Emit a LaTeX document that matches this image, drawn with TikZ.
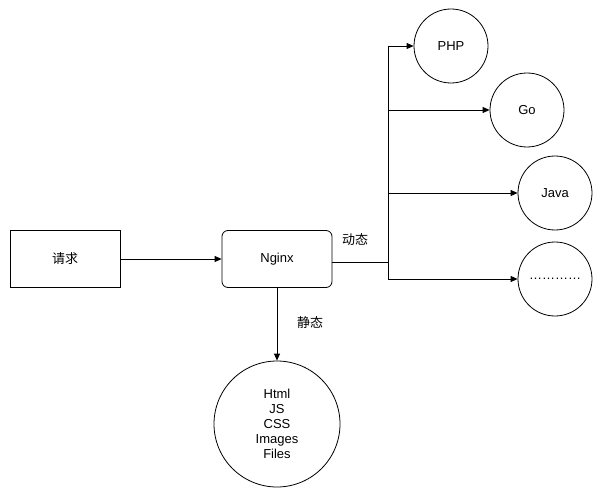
\documentclass[tikz,border=0pt]{standalone}
\usepackage{fontspec}
\setmainfont{Liberation Sans}
\newfontfamily\cjk{Noto Sans CJK SC}
\usetikzlibrary{arrows.meta}
\begin{document}
\begin{tikzpicture}[x=1pt,y=-1pt,font=\fontsize{13}{15}\selectfont,
  box/.style={draw,line width=0.8pt,minimum width=110pt,minimum height=57pt},
  circ/.style={draw,circle,line width=0.8pt,minimum size=#1},
  arr/.style={line width=0.8pt,-{Triangle[length=7pt,width=6pt]}},
  ln/.style={line width=0.8pt}]
\useasboundingbox (0,0) rectangle (602,500);
\fill[white] (0,0) rectangle (602,500);
\node[box] (req) at (65,259) {\cjk 请求};
\node[box,rounded corners=6pt] (ngx) at (277,259) {Nginx};
\node[circ=74pt] (php) at (451,46) {PHP};
\node[circ=74pt] (go) at (527,110) {Go};
\node[circ=74pt] (java) at (555,193) {Java};
\node[circ=74pt] (dots) at (555,279) {…………};
\node[circ=126pt,align=center,font=\fontsize{13}{15}\selectfont] (st) at (277,424) {Html\\JS\\CSS\\Images\\Files};
\coordinate (j) at (388,262);
\coordinate (top) at (388,46);
\coordinate (bot) at (388,279);
\draw[arr] (req) -- (ngx);
\draw[ln] (ngx.east |- j) -- (j);
\draw[ln] (top) -- (bot);
\draw[arr] (top) -- (php);
\draw[arr] (388,110) -- (go);
\draw[arr] (388,193) -- (java);
\draw[arr] (bot) -- (dots);
\draw[arr] (ngx) -- (st);
\node at (355,240) {\cjk 动态};
\node at (310,323) {\cjk 静态};
\end{tikzpicture}
\end{document}
